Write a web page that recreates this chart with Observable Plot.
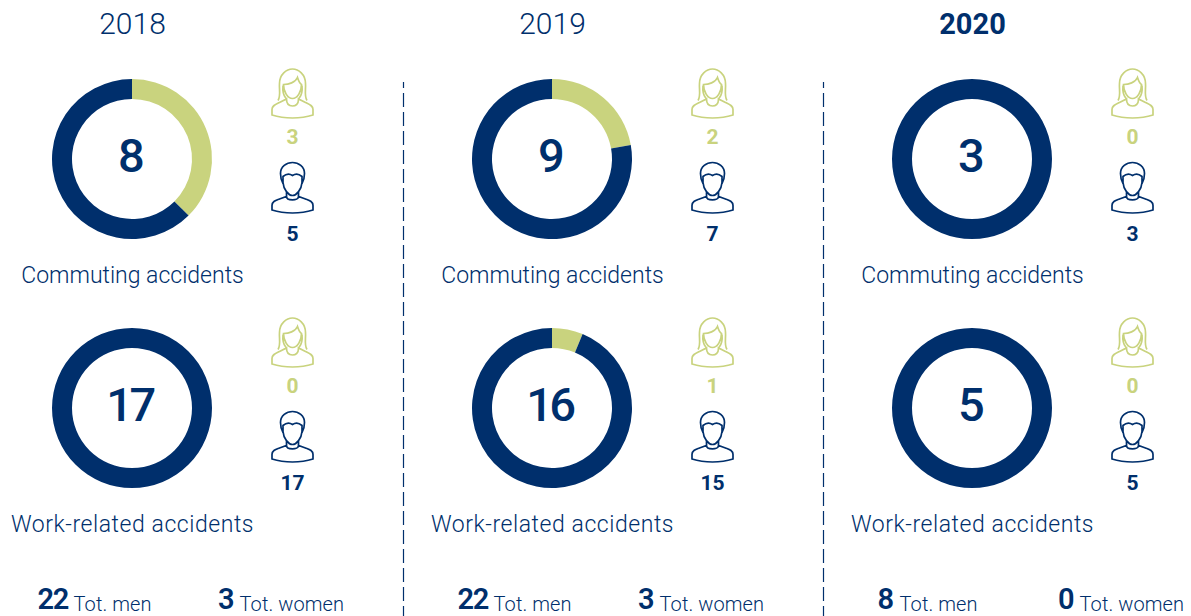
<!DOCTYPE html>
<html><head><meta charset="utf-8">
<style>html,body{margin:0;padding:0;background:#fff}svg{display:block}</style>
<script src="https://cdn.jsdelivr.net/npm/d3@7"></script>
<script src="https://cdn.jsdelivr.net/npm/@observablehq/plot@0.6"></script>
</head><body><div id="chart"></div>
<script>
const years = ["2018","2019","2020"];
const kinds = ["Commuting accidents","Work-related accidents"];
const womenCommuting = [3,2,0];
const menCommuting = [5,7,3];
const womenWork = [0,1,0];
const menWork = [17,15,5];
const totalMen = [22,22,8];
const totalWomen = [3,3,0];

const navy = "#002f6c", green = "#c9d37e";
const labelFont = "Roboto", numFont = "Roboto";

const cells = years.flatMap((year,i)=>[
  {year, kind:kinds[0], women:womenCommuting[i], men:menCommuting[i]},
  {year, kind:kinds[1], women:womenWork[i], men:menWork[i]}
]).map(d=>({...d,total:d.women+d.men}));
const totals = years.map((year,i)=>({year, kind:kinds[1], men:totalMen[i], women:totalWomen[i]}));

const slices = cells.flatMap(d=>[
  {...d, color:green, a0:0, a1:d.women/d.total},
  {...d, color:navy, a0:d.women/d.total, a1:1}
]).filter(d=>d.a1>d.a0);

const arc = d3.arc().innerRadius(60).outerRadius(80);
function renderArcs(index, scales, values){
  const g = d3.create("svg:g");
  for(const i of index){
    const d = slices[i];
    g.append("path")
      .attr("transform",`translate(${values.x[i]},${values.y[i]})`)
      .attr("fill",d.color)
      .attr("d",arc({startAngle:d.a0*2*Math.PI,endAngle:d.a1*2*Math.PI}));
  }
  return g.node();
}
const spaced = px => (i,s,v,d,c,next) => { const g = next(i,s,v,d,c); g.style.letterSpacing = px+"px"; return g; };

const woman = {draw(c){
  // hair
  c.moveTo(-14.5,6); c.bezierCurveTo(-11.5,2,-13.5,-6,-13,-11);
  c.bezierCurveTo(-13,-20,-6,-25.5,0,-25.5);
  c.bezierCurveTo(6,-25.5,13,-20,13,-11);
  c.bezierCurveTo(13.5,-6,11.5,2,14.5,6);
  // inner hair
  c.moveTo(-9.5,-9); c.bezierCurveTo(-10,-4,-9,1,-6.5,4);
  c.moveTo(9.5,-9); c.bezierCurveTo(10,-4,9,1,6.5,4);
  // face
  c.moveTo(-9,-10); c.bezierCurveTo(-4,-10,3,-12,5,-17);
  c.bezierCurveTo(6,-14,7,-11,9,-10);
  c.bezierCurveTo(9,-3,5,4,0,4);
  c.bezierCurveTo(-5,4,-9,-3,-9,-10); c.closePath();
  // body
  c.moveTo(-20.5,20.5); c.lineTo(-20.5,15);
  c.bezierCurveTo(-20.5,11,-17,10,-13,8); c.lineTo(-6,4.5);
  c.bezierCurveTo(-6,10,-3,11.5,0,11.5); c.bezierCurveTo(3,11.5,6,10,6,4.5);
  c.lineTo(13,8); c.bezierCurveTo(17,10,20.5,11,20.5,15); c.lineTo(20.5,20.5);
  c.bezierCurveTo(8,24.5,-8,24.5,-20.5,20.5); c.closePath();
}};
const man = {draw(c){
  // hair outline
  c.moveTo(-9.5,-5); c.bezierCurveTo(-12,-9,-12,-13,-12,-15);
  c.bezierCurveTo(-12,-22,-6,-26,0,-26);
  c.bezierCurveTo(6,-26,12,-22,12,-15);
  c.bezierCurveTo(12,-13,12,-9,9.5,-5);
  // hairline and face
  c.moveTo(-9.5,-12); c.bezierCurveTo(-6,-15,-3,-15,0,-13); c.bezierCurveTo(3,-15,6,-15,9.5,-12);
  c.lineTo(9.5,-6); c.bezierCurveTo(9,1,4,7,0,7); c.bezierCurveTo(-4,7,-9,1,-9.5,-6); c.closePath();
  // neck
  c.moveTo(-6,3); c.lineTo(-6,8); c.moveTo(6,3); c.lineTo(6,8);
  // body
  c.moveTo(-20.5,21.5); c.lineTo(-20.5,17);
  c.bezierCurveTo(-20.5,13,-17,12,-13,10.5); c.lineTo(-6,8);
  c.bezierCurveTo(-6,12.5,6,12.5,6,8);
  c.lineTo(13,10.5); c.bezierCurveTo(17,12,20.5,13,20.5,17); c.lineTo(20.5,21.5);
  c.bezierCurveTo(8,25.5,-8,25.5,-20.5,21.5); c.closePath();
}};

const pos = {x:"year", y:"kind"};
const plot = Plot.plot({
  width:1191, height:616, margin:0,
  x:{type:"point", domain:years, range:[132,972], padding:0, axis:null},
  y:{type:"point", domain:kinds, range:[159,408], padding:0, axis:null},
  marks:[
    Plot.ruleX(years.slice(0,2),{x:d=>d, dx:271, insetTop:82, stroke:navy, strokeWidth:1.2, strokeDasharray:"14 5", strokeDashoffset:8}),
    Plot.dot(slices,{...pos, render:renderArcs}),
    Plot.text(cells,{...pos, text:"total", fill:navy, fontFamily:numFont, fontWeight:500, fontSize:47, dy:-3, dx:-3, render:spaced(-3.5)}),
    Plot.text(years,{x:d=>d, y:()=>kinds[0], text:()=>kinds[0], fill:navy, fontFamily:labelFont, fontWeight:300, fontSize:23, dy:116}),
    Plot.text(years,{x:d=>d, y:()=>kinds[1], text:()=>kinds[1], fill:navy, fontFamily:labelFont, fontWeight:300, fontSize:23, dy:116, render:spaced(.55)}),
    Plot.dot(cells,{...pos, symbol:woman, fill:"none", stroke:green, strokeWidth:1.7, dx:160, dy:-65}),
    Plot.dot(cells,{...pos, symbol:man, fill:"none", stroke:navy, strokeWidth:1.7, dx:160, dy:29}),
    Plot.text(cells,{...pos, text:"women", fill:green, fontFamily:numFont, fontWeight:700, fontSize:21, dx:160, dy:-22}),
    Plot.text(cells,{...pos, text:"men", fill:navy, fontFamily:numFont, fontWeight:700, fontSize:21, dx:160, dy:75}),
    Plot.text(years.slice(0,2),{x:d=>d, y:()=>kinds[0], text:d=>d, fill:navy, fontFamily:labelFont, fontWeight:300, fontSize:30, dy:-135}),
    Plot.text(years.slice(2),{x:d=>d, y:()=>kinds[0], text:d=>d, fill:navy, fontFamily:labelFont, fontWeight:700, fontSize:29, dy:-135}),
    Plot.text(totals,{...pos, text:"men", textAnchor:"start", fill:navy, fontFamily:numFont, fontWeight:600, fontSize:29, dx:-95, dy:191, render:spaced(-1.2)}),
    Plot.text(totals.filter(d=>d.men>=10),{...pos, text:()=>"Tot. men", textAnchor:"start", fill:navy, fontFamily:labelFont, fontWeight:300, fontSize:20, dx:-59, dy:196, render:spaced(.1)}),
    Plot.text(totals.filter(d=>d.men<10),{...pos, text:()=>"Tot. men", textAnchor:"start", fill:navy, fontFamily:labelFont, fontWeight:300, fontSize:20, dx:-73, dy:196, render:spaced(.1)}),
    Plot.text(totals,{...pos, text:"women", textAnchor:"end", fill:navy, fontFamily:numFont, fontWeight:600, fontSize:29, dx:102, dy:191}),
    Plot.text(totals,{...pos, text:()=>"Tot. women", textAnchor:"start", fill:navy, fontFamily:labelFont, fontWeight:300, fontSize:20, dx:107, dy:196, render:spaced(.1)})
  ]
});
document.getElementById("chart").append(plot);
</script></body></html>
